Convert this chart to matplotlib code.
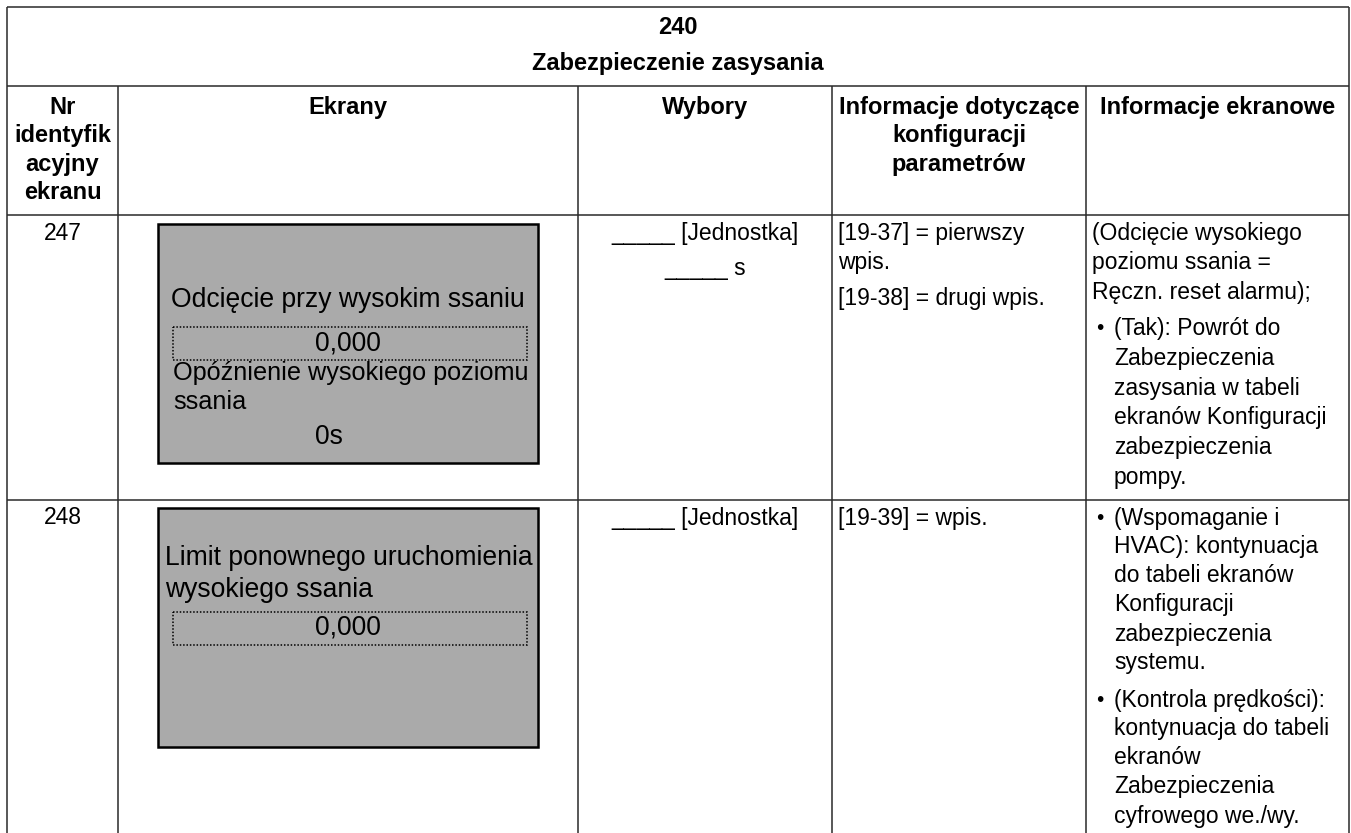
import matplotlib
matplotlib.use('Agg')
import matplotlib.pyplot as plt
from matplotlib.patches import Rectangle

plt.rcParams['font.family'] = ['Liberation Sans', 'DejaVu Sans']

# table content
title_lines = ['240', 'Zabezpieczenie zasysania']
header_cols = [['Nr', 'identyfik', 'acyjny', 'ekranu'],
               ['Ekrany'],
               ['Wybory'],
               ['Informacje dotyczące', 'konfiguracji', 'parametrów'],
               ['Informacje ekranowe']]
screen_ids = ['247', '248']
choices = [['_____ [Jednostka]', '_____ s'],
           ['_____ [Jednostka]']]
param_info = [[['[19-37] = pierwszy', 'wpis.'], ['[19-38] = drugi wpis.']],
              [['[19-39] = wpis.']]]
# (bullet, lines) per paragraph
screen_info = [[(False, ['(Odcięcie wysokiego', 'poziomu ssania =', 'Ręczn. reset alarmu);']),
                (True, ['(Tak): Powrót do', 'Zabezpieczenia', 'zasysania w tabeli',
                        'ekranów Konfiguracji', 'zabezpieczenia', 'pompy.'])],
               [(True, ['(Wspomaganie i', 'HVAC): kontynuacja', 'do tabeli ekranów',
                        'Konfiguracji', 'zabezpieczenia', 'systemu.']),
                (True, ['(Kontrola prędkości):', 'kontynuacja do tabeli', 'ekranów',
                        'Zabezpieczenia', 'cyfrowego we./wy.'])]]
# screen mock-ups: (kind, text)
screens = [[('center', 'Odcięcie przy wysokim ssaniu'), ('field', '0,000'),
            ('left', 'Opóźnienie wysokiego poziomu'), ('left', 'ssania'), ('value', '0s')],
           [('left', 'Limit ponownego uruchomienia'), ('left', 'wysokiego ssania'),
            ('field', '0,000')]]
screen_line_y = [[300, 343, 373, 402, 437], [558, 590, 628]]
screen_line_fs = [[19.1, 19.1, 18.2, 18.2, 19.1], [19.1, 19.1, 19.1]]

# layout (pixels)
W, H = 1351, 833
col_x = [7, 118, 578, 832, 1086, 1349]
row_y = [7, 86, 215, 500]
row_tops = [215, 500]
first_off = 18
lsp = [29.8, 29]
para_gap = [6, 8]
box_x = (158, 538)
box_y = [(224, 463), (508, 747)]

hdr_fs = 17.0
body_fs = 16.5

fig = plt.figure(figsize=(W / 100, H / 100), dpi=100)
ax = fig.add_axes([0, 0, 1, 1])
ax.set_xlim(0, W)
ax.set_ylim(H, 0)
ax.axis('off')

lkw = dict(color='#2a2a2a', lw=1.1, solid_capstyle='butt')
for y in row_y:
    ax.plot([col_x[0], col_x[-1]], [y, y], **lkw)
ax.plot([col_x[0], col_x[0]], [row_y[0], H], **lkw)
ax.plot([col_x[-1], col_x[-1]], [row_y[0], H], **lkw)
for x in col_x[1:-1]:
    ax.plot([x, x], [row_y[1], H], **lkw)

# title
for i, t in enumerate(title_lines):
    ax.text((col_x[0] + col_x[-1]) / 2, 27 + i * 36, t, fontsize=hdr_fs,
            fontweight='bold', ha='center', va='center')

# header
for c, lines in enumerate(header_cols):
    cx = (col_x[c] + col_x[c + 1]) / 2
    for i, t in enumerate(lines):
        ax.text(cx, 107 + i * 28.5, t, fontsize=hdr_fs,
                fontweight='bold', ha='center', va='center')

for r in range(2):
    y0 = row_tops[r] + first_off
    ax.text((col_x[0] + col_x[1]) / 2, y0, screen_ids[r], fontsize=body_fs,
            ha='center', va='center')
    for i, t in enumerate(choices[r]):
        ax.text((col_x[2] + col_x[3]) / 2, y0 + i * 35, t, fontsize=body_fs,
                ha='center', va='center')
    y = y0
    for p, lines in enumerate(param_info[r]):
        if p > 0:
            y += para_gap[r]
        for t in lines:
            ax.text(col_x[3] + 6, y, t, fontsize=body_fs, ha='left', va='center')
            y += lsp[r]
    y = y0
    for p, (bullet, lines) in enumerate(screen_info[r]):
        if p > 0:
            y += para_gap[r]
        for i, t in enumerate(lines):
            if bullet:
                if i == 0:
                    ax.text(col_x[4] + 14, y, '•', fontsize=body_fs * 0.9,
                            ha='center', va='center')
                ax.text(col_x[4] + 28, y, t, fontsize=body_fs, ha='left', va='center')
            else:
                ax.text(col_x[4] + 6, y, t, fontsize=body_fs, ha='left', va='center')
            y += lsp[r]

    # screen mock-up
    bx0, bx1 = box_x
    by0, by1 = box_y[r]
    ax.add_patch(Rectangle((bx0, by0), bx1 - bx0, by1 - by0, facecolor='#aaaaaa',
                           edgecolor='black', lw=1.8))
    cx = (bx0 + bx1) / 2
    left_pad = 15 if r == 0 else 7
    for (kind, t), ly, fs in zip(screens[r], screen_line_y[r], screen_line_fs[r]):
        if kind == 'center':
            ax.text(cx, ly, t, fontsize=fs, ha='center', va='center')
        elif kind == 'left':
            ax.text(bx0 + left_pad, ly, t, fontsize=fs, ha='left', va='center')
        elif kind == 'value':
            ax.text(cx - 33, ly, t, fontsize=fs, ha='left', va='center')
        else:
            ax.add_patch(Rectangle((173, ly - 16), 354, 33, facecolor='none',
                                   edgecolor='black', lw=1.1, linestyle=(0, (1, 1.2))))
            ax.text(cx, ly, t, fontsize=fs, ha='center', va='center')

fig.savefig('out.png', dpi=100)
